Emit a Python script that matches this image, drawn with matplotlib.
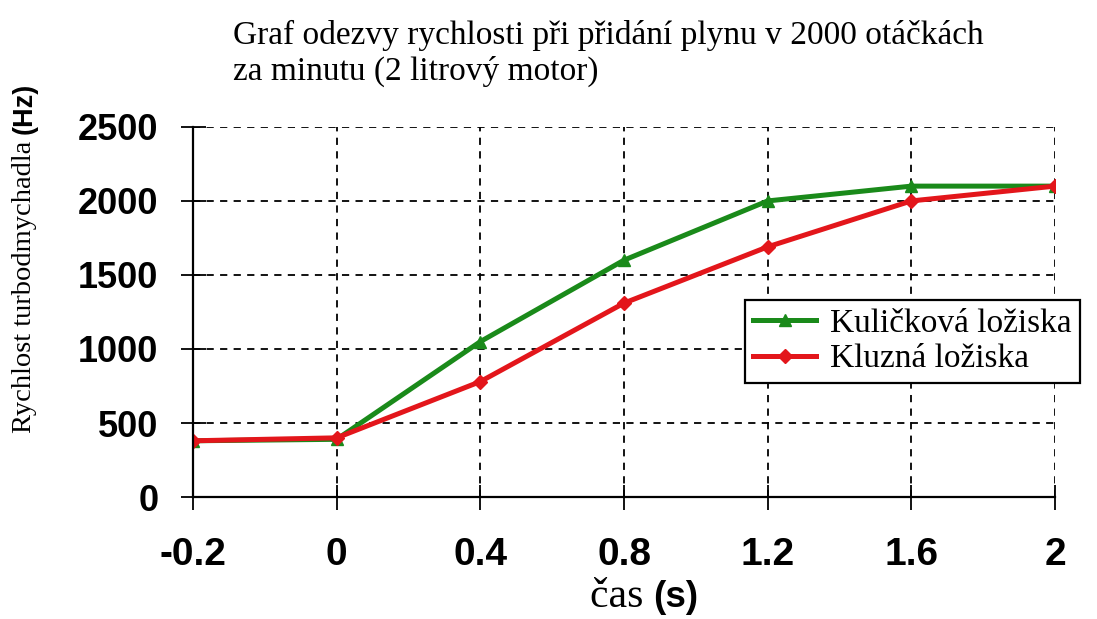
import matplotlib.pyplot as plt

# data
categories = ['-0.2', '0', '0.4', '0.8', '1.2', '1.6', '2']
ball_bearings = [380, 390, 1050, 1600, 2000, 2100, 2100]
sleeve_bearings = [380, 400, 780, 1310, 1690, 2000, 2100]
yticks = [0, 500, 1000, 1500, 2000, 2500]

green = '#1a8a1a'
red = '#e3161b'
serif = 'Liberation Serif'
sans = 'Liberation Sans'

fig = plt.figure(figsize=(10.97, 6.19), dpi=100)
ax = fig.add_axes((0.176, 0.197, 0.7857, 0.598))

x = range(len(categories))
ax.plot(x, ball_bearings, color=green, lw=3.6, marker='^', ms=9, label='Kuličková ložiska')
ax.plot(x, sleeve_bearings, color=red, lw=3.6, marker='D', ms=7, label='Kluzná ložiska')

ax.set_xlim(0, len(categories) - 1)
ax.set_ylim(0, 2500)
ax.set_xticks(list(x), categories)
ax.set_yticks(yticks, [str(v) for v in yticks])
for lab in ax.get_xticklabels():
    lab.set_fontfamily(sans)
    lab.set_fontweight('bold')
    lab.set_fontsize(28)
for lab in ax.get_yticklabels():
    lab.set_fontfamily(sans)
    lab.set_fontweight('bold')
    lab.set_fontsize(26)
ax.tick_params(axis='x', direction='inout', length=18, width=1.3, pad=20)
ax.tick_params(axis='y', direction='inout', length=18, width=1.3, pad=16)

ax.grid(True, color='black', ls=(0, (4, 3.5)), lw=1.3)
ax.spines[['top', 'right']].set_visible(False)
ax.spines[['left', 'bottom']].set_linewidth(1.6)

leg = ax.legend(loc='upper left', bbox_to_anchor=(0.64, 0.532), prop={'family': serif, 'size': 24},
                frameon=True, fancybox=False, edgecolor='black', framealpha=1,
                handlelength=1.9, borderpad=0.25, borderaxespad=0, labelspacing=0.15,
                handletextpad=0.4)
leg.get_frame().set_linewidth(1.6)

fig.text(0.212, 0.968, 'Graf odezvy rychlosti při přidání plynu v 2000 otáčkách\nza minutu (2 litrový motor)',
         family=serif, fontsize=24, ha='left', va='top', linespacing=1.2)

# x label: serif word followed by bold sans unit
fig.canvas.draw()
r = fig.canvas.get_renderer()
base_y = 1 - 607 / 619
t1 = fig.text(0.5, base_y, 'čas ', family=serif, fontsize=30, ha='left', va='baseline')
t2 = fig.text(0.5, base_y, '(s)', family=sans, fontsize=26.5, fontweight='bold', ha='left', va='baseline')
w1 = t1.get_window_extent(r).width
w2 = t2.get_window_extent(r).width
x0 = 644 / 1097 - (w1 + w2) / 2 / fig.bbox.width
t1.set_x(x0)
t2.set_x(x0 + w1 / fig.bbox.width)

# y label, rotated
t3 = fig.text(0.034, 0.5, 'Rychlost turbodmychadla ', family=serif, fontsize=20.5,
              rotation=90, ha='left', va='bottom', rotation_mode='anchor')
t4 = fig.text(0.034, 0.5, '(Hz)', family=sans, fontsize=19.5, fontweight='bold',
              rotation=90, ha='left', va='bottom', rotation_mode='anchor')
h3 = t3.get_window_extent(r).height
y0 = 1 - 433 / 619
t3.set_position((0.034, y0))
t4.set_position((0.034, y0 + h3 / fig.bbox.height))

fig.savefig('out.png', dpi=100)
